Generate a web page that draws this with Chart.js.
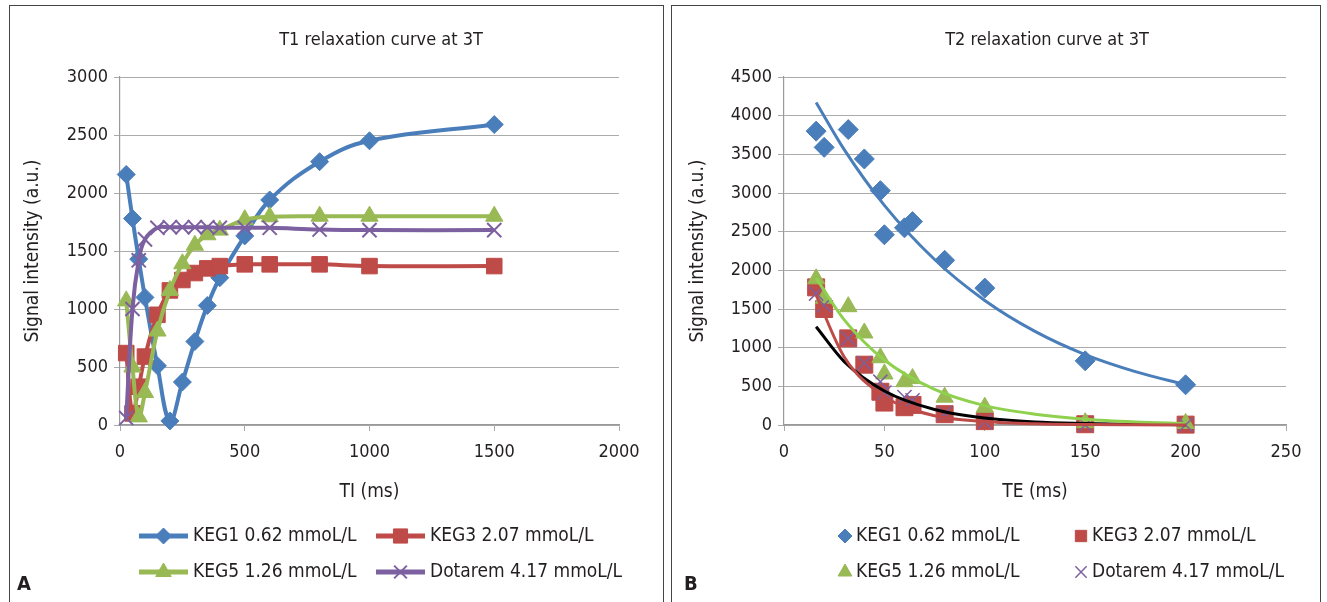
<!DOCTYPE html>
<html>
<head>
<meta charset="utf-8">
<title>T1 / T2 relaxation curves at 3T</title>
<script src="https://cdn.jsdelivr.net/npm/chart.js@4.4.1/dist/chart.umd.min.js"></script>
<style>
  html, body { margin: 0; padding: 0; background: #fff; width: 1327px; height: 602px; overflow: hidden; }
  .panel { position: absolute; top: 5px; height: 620px; border: 1px solid #444; border-bottom: none; }
  #panelA { left: 9px; width: 653px; }
  #panelB { left: 671px; width: 648px; }
  .panel canvas { position: absolute; left: 0; top: 0; }
</style>
</head>
<body>
<div class="panel" id="panelA"><canvas id="chartT1" width="653" height="596"></canvas></div>
<div class="panel" id="panelB"><canvas id="chartT2" width="648" height="596"></canvas></div>

<script>
/* ---- T1 inversion recovery (panel A) ---- */
const tiMs      = [25, 50, 75, 100, 150, 200, 250, 300, 350, 400, 500, 600, 800, 1000, 1500];
const t1Keg1    = [2160, 1780, 1430, 1100, 510, 35, 370, 720, 1030, 1270, 1630, 1940, 2270, 2450, 2590];
const t1Keg3    = [620, 100, 330, 590, 950, 1160, 1250, 1310, 1350, 1370, 1385, 1385, 1385, 1370, 1370];
const t1Keg5    = [1070, 500, 70, 280, 810, 1160, 1390, 1550, 1640, 1680, 1770, 1795, 1800, 1800, 1800];
const t1Dotarem = [60, 1000, 1420, 1600, 1700, 1705, 1705, 1705, 1705, 1700, 1700, 1700, 1685, 1680, 1680];

/* ---- T2 spin echo (panel B) ---- */
const teMs      = [16, 20, 32, 40, 48, 50, 60, 64, 80, 100, 150, 200];
const t2Keg1    = [3800, 3590, 3820, 3440, 3030, 2460, 2550, 2630, 2130, 1770, 830, 520];
const t2Keg3    = [1780, 1500, 1120, 780, 430, 290, 230, 260, 140, 50, 10, 5];
const t2Keg5    = [1890, 1640, 1530, 1190, 870, 660, 560, 600, 360, 230, 30, 20];
const t2Dotarem = [1700, 1550, 1120, 800, 560, 420, 360, 320, 150, 40, 0, 0];

// trend lines
const fitTe      = [16, 30, 50, 75, 100, 125, 150, 175, 200];
const fitKeg1    = [4170, 3560, 2840, 2140, 1610, 1210, 910, 690, 520];
const fitKeg3    = [1680, 880, 370, 120, 45, 15, 5, 2, 1];
const fitKeg5    = [1900, 1360, 840, 460, 250, 140, 75, 40, 20];
const fitDotarem = [1270, 820, 440, 200, 90, 40, 20, 8, 4];

const seriesLabels = ['KEG1 0.62 mmoL/L', 'KEG3 2.07 mmoL/L', 'KEG5 1.26 mmoL/L', 'Dotarem 4.17 mmoL/L'];

const fontFamily = "'DejaVu Sans Condensed', 'Liberation Sans Narrow', Lato, sans-serif";
const tickSize = 18;
const labelSize = 19;
const ink = '#231f20';
const gridColor = '#ababab';
const C = {
  blue:   '#4a7ebb',
  red:    '#be4b48',
  green:  '#98b954',
  purple: '#7d60a0',
  lime:   '#8fd14f',
};

const pts = (xs, ys) => xs.map((x, i) => ({ x, y: ys[i] }));

function axis(min, max, step, title, isX, size, titlePad) {
  return {
    type: 'linear',
    min, max,
    ticks: {
      stepSize: step, color: ink, autoSkip: false, maxRotation: 0,
      padding: isX ? 11 : 6,
      font: { family: fontFamily, size: tickSize },
      callback: v => String(v),
    },
    grid: { drawOnChartArea: !isX, color: gridColor, lineWidth: 1, tickLength: 6 },
    border: { display: true, color: '#999', width: 1.2 },
    title: {
      display: true, text: title, color: ink,
      font: { family: fontFamily, size: labelSize },
      padding: titlePad,
    },
    afterFit: s => { if (isX) s.height = size; else s.width = size; },
  };
}

// draws the chart title, panel letter and a 2x2 legend below the plot
const panelText = {
  id: 'panelText',
  afterDraw(chart, args, o) {
    const ctx = chart.ctx;
    ctx.save();
    ctx.fillStyle = ink;
    ctx.textBaseline = 'middle';

    ctx.textAlign = 'center';
    ctx.font = `${tickSize}px ${fontFamily}`;
    ctx.fillText(o.title, o.titleX, o.titleY);

    ctx.textAlign = 'left';
    ctx.font = `bold 20px ${fontFamily}`;
    ctx.fillText(o.letter, o.letterX, o.letterY);

    ctx.font = `${labelSize}px ${fontFamily}`;
    o.items.forEach((item, i) => {
      const ds = chart.data.datasets[item];
      const x = o.colX[i % 2];
      const y = o.rowY[Math.floor(i / 2)];
      if (o.lineWidth) {
        ctx.strokeStyle = ds.borderColor;
        ctx.lineWidth = 5;
        ctx.beginPath();
        ctx.moveTo(x, y);
        ctx.lineTo(x + o.lineWidth, y);
        ctx.stroke();
      }
      const mx = x + (o.lineWidth || 0) / 2;
      ctx.fillStyle = ds.pointBackgroundColor;
      ctx.strokeStyle = ds.pointBorderColor;
      ctx.lineWidth = ds.pointBorderWidth;
      Chart.helpers.drawPoint(ctx, {
        pointStyle: ds.pointStyle, rotation: 0,
        radius: o.markerRadius[i], borderWidth: ds.pointBorderWidth,
      }, mx, y);
      ctx.fillStyle = ink;
      ctx.fillText(ds.label, x + (o.lineWidth || 0) + o.textGap, y);
    });
    ctx.restore();
  },
};

function marker(color, style, r, bw) {
  return {
    pointStyle: style, pointRadius: r,
    pointBackgroundColor: color, pointBorderColor: color, pointBorderWidth: bw,
  };
}

// ---- Panel A ----
new Chart(document.getElementById('chartT1'), {
  type: 'scatter',
  data: {
    datasets: [
      { label: seriesLabels[0], data: pts(tiMs, t1Keg1), order: 4, ...marker(C.blue, 'rectRot', 9, 1) },
      { label: seriesLabels[1], data: pts(tiMs, t1Keg3), order: 3, ...marker(C.red, 'rect', 11, 1) },
      { label: seriesLabels[2], data: pts(tiMs, t1Keg5), order: 2, ...marker(C.green, 'triangle', 10, 1) },
      { label: seriesLabels[3], data: pts(tiMs, t1Dotarem), order: 1, ...marker(C.purple, 'crossRot', 10, 2) },
    ].map(ds => ({ ...ds, showLine: true, borderColor: ds.pointBorderColor, borderWidth: 4, tension: 0.4, clip: false })),
  },
  options: {
    responsive: false,
    animation: false,
    events: [],
    layout: { padding: { left: 0, right: 44, top: 71, bottom: 97 } },
    scales: {
      x: axis(0, 2000, 500, 'TI (ms)', true, 80, { top: 0, bottom: 2 }),
      y: axis(0, 3000, 500, 'Signal intensity (a.u.)', false, 110, { top: 12, bottom: 0 }),
    },
    plugins: {
      legend: { display: false },
      tooltip: { enabled: false },
      panelText: {
        title: 'T1 relaxation curve at 3T', titleX: 371, titleY: 34,
        letter: 'A', letterX: 7, letterY: 579,
        items: [0, 1, 2, 3],
        colX: [129, 366], rowY: [530, 566],
        lineWidth: 49, textGap: 5,
        markerRadius: [8, 10, 9, 9],
      },
    },
  },
  plugins: [panelText],
});

// ---- Panel B ----
const trend = (label, data, color) => ({
  label, data, showLine: true, borderColor: color, borderWidth: 3,
  pointRadius: 0, cubicInterpolationMode: 'monotone', clip: false, order: 0,
});

new Chart(document.getElementById('chartT2'), {
  type: 'scatter',
  data: {
    datasets: [
      { label: seriesLabels[0], data: pts(teMs, t2Keg1), order: 8, ...marker(C.blue, 'rectRot', 10, 1) },
      { label: seriesLabels[1], data: pts(teMs, t2Keg3), order: 7, ...marker(C.red, 'rect', 12, 1) },
      { label: seriesLabels[2], data: pts(teMs, t2Keg5), order: 6, ...marker(C.green, 'triangle', 10, 1) },
      { label: seriesLabels[3], data: pts(teMs, t2Dotarem), order: 5, ...marker(C.purple, 'crossRot', 10, 1.5) },
      trend('KEG1 fit', pts(fitTe, fitKeg1), C.blue),
      trend('KEG3 fit', pts(fitTe, fitKeg3), C.red),
      trend('KEG5 fit', pts(fitTe, fitKeg5), C.lime),
      trend('Dotarem fit', pts(fitTe, fitDotarem), '#000000'),
    ].map(ds => ({ clip: false, ...ds })),
  },
  options: {
    responsive: false,
    animation: false,
    events: [],
    layout: { padding: { left: 0, right: 34, top: 71, bottom: 97 } },
    scales: {
      x: axis(0, 250, 50, 'TE (ms)', true, 80, { top: 0, bottom: 2 }),
      y: axis(0, 4500, 500, 'Signal intensity (a.u.)', false, 112, { top: 15, bottom: 0 }),
    },
    plugins: {
      legend: { display: false },
      tooltip: { enabled: false },
      panelText: {
        title: 'T2 relaxation curve at 3T', titleX: 375, titleY: 34,
        letter: 'B', letterX: 12, letterY: 579,
        items: [0, 1, 2, 3],
        colX: [173, 409], rowY: [530, 566],
        lineWidth: 0, textGap: 11,
        markerRadius: [7, 8, 8, 8],
      },
    },
  },
  plugins: [panelText],
});
</script>
</body>
</html>
